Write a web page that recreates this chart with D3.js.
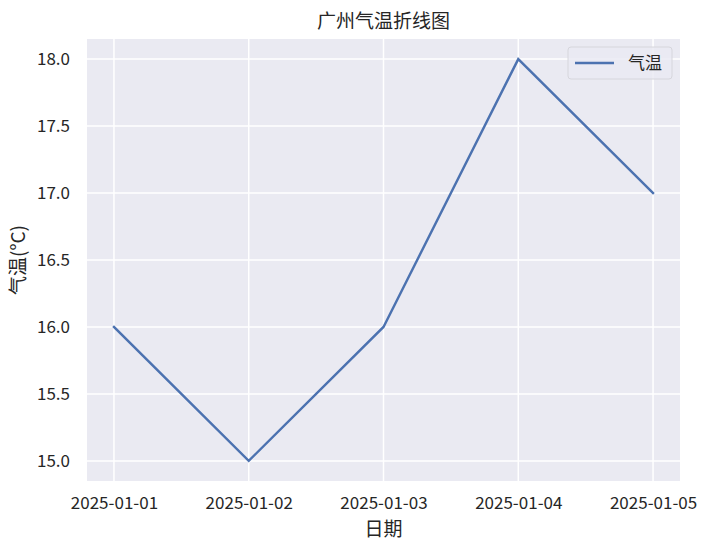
<!DOCTYPE html>
<html>
<head>
<meta charset="utf-8">
<script src="https://cdn.jsdelivr.net/npm/d3@7"></script>
<style>
  body { margin: 0; background: #fff; }
  text { font-family: "Noto Sans CJK SC", "DejaVu Sans", sans-serif; fill: #262626; }
</style>
</head>
<body>
<svg width="711" height="544"></svg>
<script>
  // data
  var dates = ["2025-01-01", "2025-01-02", "2025-01-03", "2025-01-04", "2025-01-05"];
  var temps = [16, 15, 16, 18, 17];
  var yTicks = [15.0, 15.5, 16.0, 16.5, 17.0, 17.5, 18.0];

  var svg = d3.select("svg");
  var plotL = 87, plotR = 680, plotT = 39, plotB = 481;

  var parse = d3.utcParse("%Y-%m-%d");
  var pts = dates.map(function (d, i) { return { date: parse(d), value: temps[i] }; });

  var day = 864e5;
  var x = d3.scaleUtc()
    .domain([+pts[0].date - 0.2 * day, +pts[pts.length - 1].date + 0.2 * day])
    .range([plotL, plotR]);
  var y = d3.scaleLinear().domain([14.85, 18.15]).range([plotB, plotT]);

  svg.append("rect")
    .attr("x", plotL).attr("y", plotT)
    .attr("width", plotR - plotL).attr("height", plotB - plotT)
    .attr("fill", "#eaeaf2");

  // grid
  var g = svg.append("g");
  g.selectAll(".vg").data(pts).enter().append("line")
    .attr("x1", function (d) { return x(d.date); })
    .attr("x2", function (d) { return x(d.date); })
    .attr("y1", plotT).attr("y2", plotB)
    .attr("stroke", "#fff").attr("stroke-width", 1.5);
  g.selectAll(".hg").data(yTicks).enter().append("line")
    .attr("x1", plotL).attr("x2", plotR)
    .attr("y1", function (d) { return y(d); })
    .attr("y2", function (d) { return y(d); })
    .attr("stroke", "#fff").attr("stroke-width", 1.5);

  // axes
  var xAxis = d3.axisBottom(x)
    .tickValues(pts.map(function (d) { return d.date; }))
    .tickFormat(d3.utcFormat("%Y-%m-%d"))
    .tickSize(0).tickPadding(16);
  svg.append("g").attr("transform", "translate(0," + plotB + ")").call(xAxis)
    .call(function (s) { s.select(".domain").remove(); })
    .selectAll("text").attr("font-size", 17).style("font-family", "Noto Sans CJK SC").style("fill", "#262626");

  var yAxis = d3.axisLeft(y).tickValues(yTicks).tickFormat(d3.format(".1f"))
    .tickSize(0).tickPadding(17);
  svg.append("g").attr("transform", "translate(" + plotL + ",0)").call(yAxis)
    .call(function (s) { s.select(".domain").remove(); })
    .selectAll("text").attr("font-size", 17).style("font-family", "Noto Sans CJK SC").style("fill", "#262626");

  // line
  var line = d3.line()
    .x(function (d) { return x(d.date); })
    .y(function (d) { return y(d.value); });
  svg.append("path").datum(pts)
    .attr("d", line)
    .attr("fill", "none")
    .attr("stroke", "#4c72b0")
    .attr("stroke-width", 2.4)
    .attr("stroke-linecap", "square");

  // title and labels
  svg.append("text").attr("x", (plotL + plotR) / 2).attr("y", 28)
    .attr("text-anchor", "middle").attr("font-size", 19).text("广州气温折线图");
  svg.append("text").attr("x", (plotL + plotR) / 2).attr("y", 536)
    .attr("text-anchor", "middle").attr("font-size", 19).text("日期");
  svg.append("text")
    .attr("transform", "translate(25," + ((plotT + plotB) / 2) + ") rotate(-90)")
    .attr("text-anchor", "middle").attr("font-size", 19).text("气温(°C)");

  // legend
  var lg = svg.append("g").attr("transform", "translate(568,47)");
  lg.append("rect").attr("width", 104).attr("height", 32).attr("rx", 3)
    .attr("fill", "#eaeaf2").attr("fill-opacity", 0.8)
    .attr("stroke", "#d6d6dc").attr("stroke-width", 1);
  lg.append("line").attr("x1", 7).attr("x2", 46).attr("y1", 16).attr("y2", 16)
    .attr("stroke", "#4c72b0").attr("stroke-width", 2.4);
  lg.append("text").attr("x", 60).attr("y", 22).attr("font-size", 17).text("气温");
</script>
</body>
</html>
